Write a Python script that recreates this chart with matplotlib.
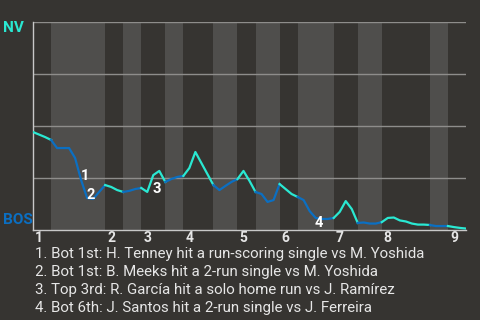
import matplotlib
matplotlib.use("Agg")
import matplotlib.pyplot as plt
import matplotlib.transforms as mtransforms

plt.rcParams["font.family"] = ["Roboto", "DejaVu Sans"]

# 勝率（NV 方向，0 = BOS 勝、100 = NV 勝），每個打席一點
WIN_PROB = [
    47.1, 45.9, 44.7, 43.3, 39.4, 39.4, 39.4, 34.6, 24.0, 15.4,
    14.9, 18.3, 21.6, 20.7, 19.2, 18.3, 18.8, 19.7, 20.2, 18.3,
    26.4, 28.4, 23.1, 24.5, 25.5, 26.0, 29.8, 37.5, 32.2, 26.9,
    21.6, 19.2, 21.2, 23.1, 24.5, 28.4, 23.6, 18.3, 17.3, 13.5,
    14.4, 22.1, 19.7, 17.3, 15.9, 14.4, 9.1, 5.8, 5.3, 5.3,
    5.8, 8.7, 13.9, 10.1, 3.4, 3.6, 3.1, 3.1, 3.8, 5.8,
    6.0, 4.6, 4.1, 3.1, 2.6, 2.6, 2.4, 1.9, 1.9, 1.9,
    1.4, 1.0, 0.7,
]
# 每個半局開始的打席序號（上、下交替）
HALF_STARTS = [0, 3, 12, 15, 18, 22, 25, 30, 34, 37, 41, 44, 50, 54, 58, 66, 69]
INNING_LABELS = ["1", "2", "3", "4", "5", "6", "7", "8", "9"]

EVENT_LABELS = ["1", "2", "3", "4"]
EVENT_X = [8.66, 9.65, 20.6, 47.6]
EVENT_Y = [25.8, 16.8, 19.7, 3.6]
EVENT_TEXT = [
    "1. Bot 1st: H. Tenney hit a run-scoring single vs M. Yoshida",
    "2. Bot 1st: B. Meeks hit a 2-run single vs M. Yoshida",
    "3. Top 3rd: R. García hit a solo home run vs J. Ramírez",
    "4. Bot 6th: J. Santos hit a 2-run single vs J. Ferreira",
]

BG = "#363431"
BAND = "#4f4e4c"
GRID = "#8e8d8b"
AXIS = "#c8c8c8"
NV_COLOR = "#2ae8d2"
BOS_COLOR = "#0b6fc2"
TEXT = "#e6e6e6"

fig = plt.figure(figsize=(4.8, 3.2), dpi=100, facecolor=BG)
ax = fig.add_axes([33 / 480, 1 - 230 / 320, 433 / 480, 208 / 320], facecolor=BG)

n_pa = len(WIN_PROB) - 1
ends = HALF_STARTS[1:] + [n_pa]

# 下半局底色
for k, (s, e) in enumerate(zip(HALF_STARTS, ends)):
    if k % 2 == 1:
        ax.axvspan(s, e, color=BAND, lw=0, zorder=0)

for gy in (25, 50, 75, 100):
    ax.axhline(gy, color=GRID, lw=1, zorder=1)

# 勝率折線：上半局 NV 色、下半局 BOS 色
for k, (s, e) in enumerate(zip(HALF_STARTS, ends)):
    xs = list(range(s, e + 1))
    ax.plot(xs, WIN_PROB[s:e + 1], color=NV_COLOR if k % 2 == 0 else BOS_COLOR,
            lw=1.6, solid_joinstyle="round", zorder=3)

for lab, ex, ey in zip(EVENT_LABELS, EVENT_X, EVENT_Y):
    ax.text(ex, ey, lab, color="white", fontsize=10.5, fontweight="bold",
            ha="center", va="center", zorder=5)

ax.set_xlim(0, n_pa)
ax.set_ylim(0, 100)
ax.set_yticks([])

inning_starts = HALF_STARTS[::2]
ax.set_xticks(inning_starts)
ax.set_xticklabels(INNING_LABELS, color=TEXT, fontsize=10, fontweight="bold")
ax.tick_params(axis="x", length=0, pad=1)
shift = mtransforms.ScaledTranslation(2 / 100, 0, fig.dpi_scale_trans)
for lbl in ax.get_xticklabels():
    lbl.set_horizontalalignment("left")
    lbl.set_transform(lbl.get_transform() + shift)

for side in ("top", "right"):
    ax.spines[side].set_visible(False)
for side in ("left", "bottom"):
    ax.spines[side].set_color(AXIS)
    ax.spines[side].set_linewidth(1)

fig.text(3 / 480, 1 - 28 / 320, "NV", color=NV_COLOR, fontsize=11, fontweight="bold",
         ha="left", va="center")
fig.text(3 / 480, 1 - 219.5 / 320, "BOS", color=BOS_COLOR, fontsize=11,
         fontweight="bold", ha="left", va="center")

for i, line in enumerate(EVENT_TEXT):
    fig.text(35 / 480, 1 - (254 + 18 * i) / 320, line, color=TEXT, fontsize=10.8,
             ha="left", va="center")

fig.savefig("out.png", dpi=100, facecolor=BG)
